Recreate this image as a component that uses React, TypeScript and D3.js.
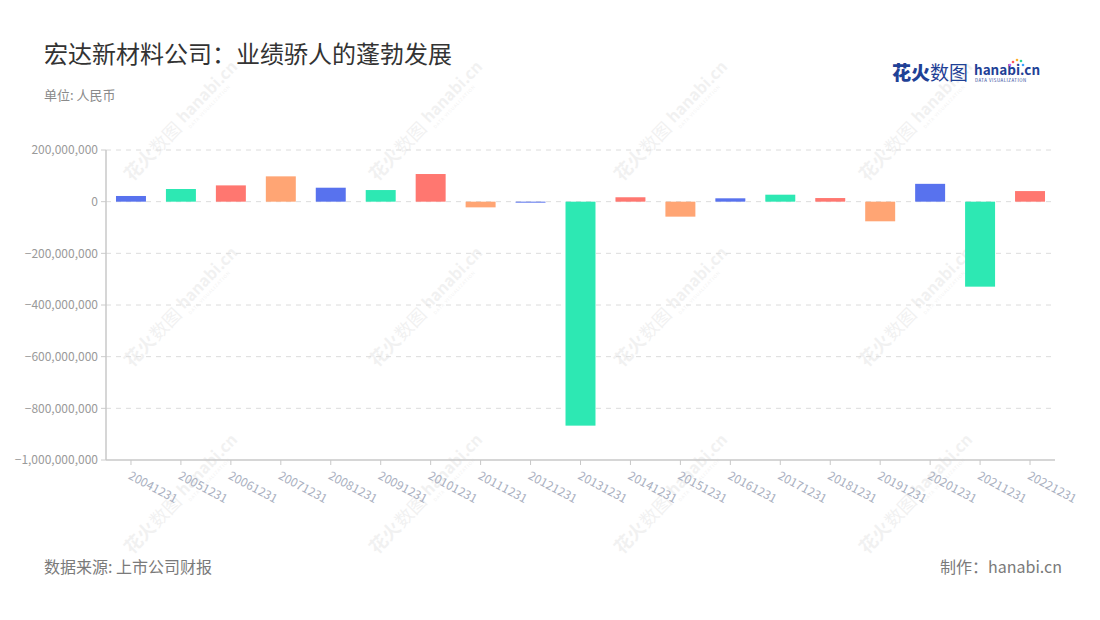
import React from "react";
import * as d3 from "d3";

const categories = ["20041231","20051231","20061231","20071231","20081231","20091231","20101231","20111231","20121231","20131231","20141231","20151231","20161231","20171231","20181231","20191231","20201231","20211231","20221231"];
const profits = [22e6, 49e6, 63e6, 98e6, 54e6, 45e6, 107e6, -22e6, -3e6, -867e6, 17e6, -58e6, 13e6, 27e6, 14e6, -76e6, 69e6, -329e6, 41e6];
const yTicks = [200e6, 0, -200e6, -400e6, -600e6, -800e6, -1000e6];
const palette = ["#5872EE", "#2DE8B3", "#FF7770", "#FFA574"];

const FONT = "'Noto Sans CJK SC', 'Noto Sans', sans-serif";

const W = 1100, H = 620;
const M = { left: 106, right: 1055, top: 150, bottom: 460 };

const wmCols = [132, 377, 622, 867];
const wmRows = [182, 368, 555];

function Watermark({ x, y }: { x: number; y: number }) {
  return (
    <g transform={`translate(${x},${y}) rotate(-46)`} fill="#000" opacity={0.05} fontFamily={FONT}>
      <text x={0} y={0} fontSize={18} fontWeight={700}>花火</text>
      <text x={37} y={0} fontSize={18}>数图</text>
      <text x={78} y={-3} fontSize={16} fontWeight={700}>hanabi.cn</text>
      <text x={79} y={5} fontSize={4.5} letterSpacing={0.8}>DATA VISUALIZATION</text>
    </g>
  );
}

export default function App() {
  const x = d3.scaleBand<string>().domain(categories).range([M.left, M.right]).padding(0);
  const y = d3.scaleLinear().domain([-1000e6, 200e6]).range([M.bottom, M.top]);
  const bw = x.bandwidth();
  const fmt = d3.format(",");

  return (
    <svg width={W} height={H} style={{ position: "absolute", left: 0, top: 0, background: "#fff" }} fontFamily={FONT}>
      <rect x={0} y={0} width={W} height={H} fill="#fff" />
      {wmRows.map((ry) => wmCols.map((cx) => <Watermark key={`${cx}-${ry}`} x={cx} y={ry} />))}

      <text x={44} y={63} fontSize={24} fill="#333">宏达新材料公司：业绩骄人的蓬勃发展</text>
      <text x={44} y={100} fontSize={13} fill="#8a8a8a">单位: 人民币</text>

      {/* logo */}
      <g fontFamily={FONT} fill="#1f4196">
        <text x={892} y={80} fontSize={19} fontWeight={900}>花火</text>
        <text x={930} y={80} fontSize={19} fontWeight={400}>数图</text>
        <text x={974} y={75} fontSize={13.5} fontWeight={700}>hanabi.cn</text>
        <text x={975} y={82} fontSize={4.4} letterSpacing={0.5}>DATA VISUALIZATION</text>
        <circle cx={1013} cy={62} r={1.3} fill="#ff5a5a" />
        <circle cx={1017} cy={60} r={1.3} fill="#ffb02e" />
        <circle cx={1021} cy={61} r={1.3} fill="#2ed3a0" />
        <circle cx={1023} cy={65} r={1.3} fill="#3aa0ff" />
        <circle cx={1010} cy={65} r={1.3} fill="#c05cff" />
      </g>

      {/* grid + y labels */}
      {yTicks.map((t) => (
        <g key={t}>
          {t !== -1000e6 && (
            <line x1={M.left} x2={M.right} y1={y(t)} y2={y(t)} stroke="#dcdcdc" strokeDasharray="5,5" strokeWidth={1} />
          )}
          <line x1={M.left - 5} x2={M.left} y1={y(t)} y2={y(t)} stroke="#ccc" strokeWidth={1} />
          <text x={M.left - 8} y={y(t)} dy="0.35em" textAnchor="end" fontSize={12} fill="#9a9a9a">{fmt(t)}</text>
        </g>
      ))}
      <line x1={M.left} x2={M.left} y1={M.top} y2={M.bottom} stroke="#c8c8c8" strokeWidth={1.5} />

      {/* bars */}
      {categories.map((c, i) => {
        const v = profits[i];
        const y0 = y(0), y1 = y(v);
        return (
          <rect key={c} x={(x(c) as number) + bw * 0.2} width={bw * 0.6}
            y={Math.min(y0, y1)} height={Math.max(Math.abs(y1 - y0), 1)}
            fill={palette[i % 4]} />
        );
      })}

      {/* x axis */}
      <line x1={M.left} x2={M.right} y1={M.bottom} y2={M.bottom} stroke="#c8c8c8" strokeWidth={1.5} />
      {categories.map((c) => {
        const cx = (x(c) as number) + bw / 2;
        return (
          <g key={c}>
            <line x1={cx} x2={cx} y1={M.bottom} y2={M.bottom + 5} stroke="#c8c8c8" />
            <text transform={`translate(${cx},${M.bottom + 12}) rotate(28)`} fontSize={12} fill="#a9afc0" dy="0.6em">{c}</text>
          </g>
        );
      })}

      <text x={44} y={573} fontSize={16} fill="#7a7a7a">数据来源: 上市公司财报</text>
      <text x={1062} y={573} fontSize={16} fill="#7a7a7a" textAnchor="end">制作：hanabi.cn</text>
    </svg>
  );
}
